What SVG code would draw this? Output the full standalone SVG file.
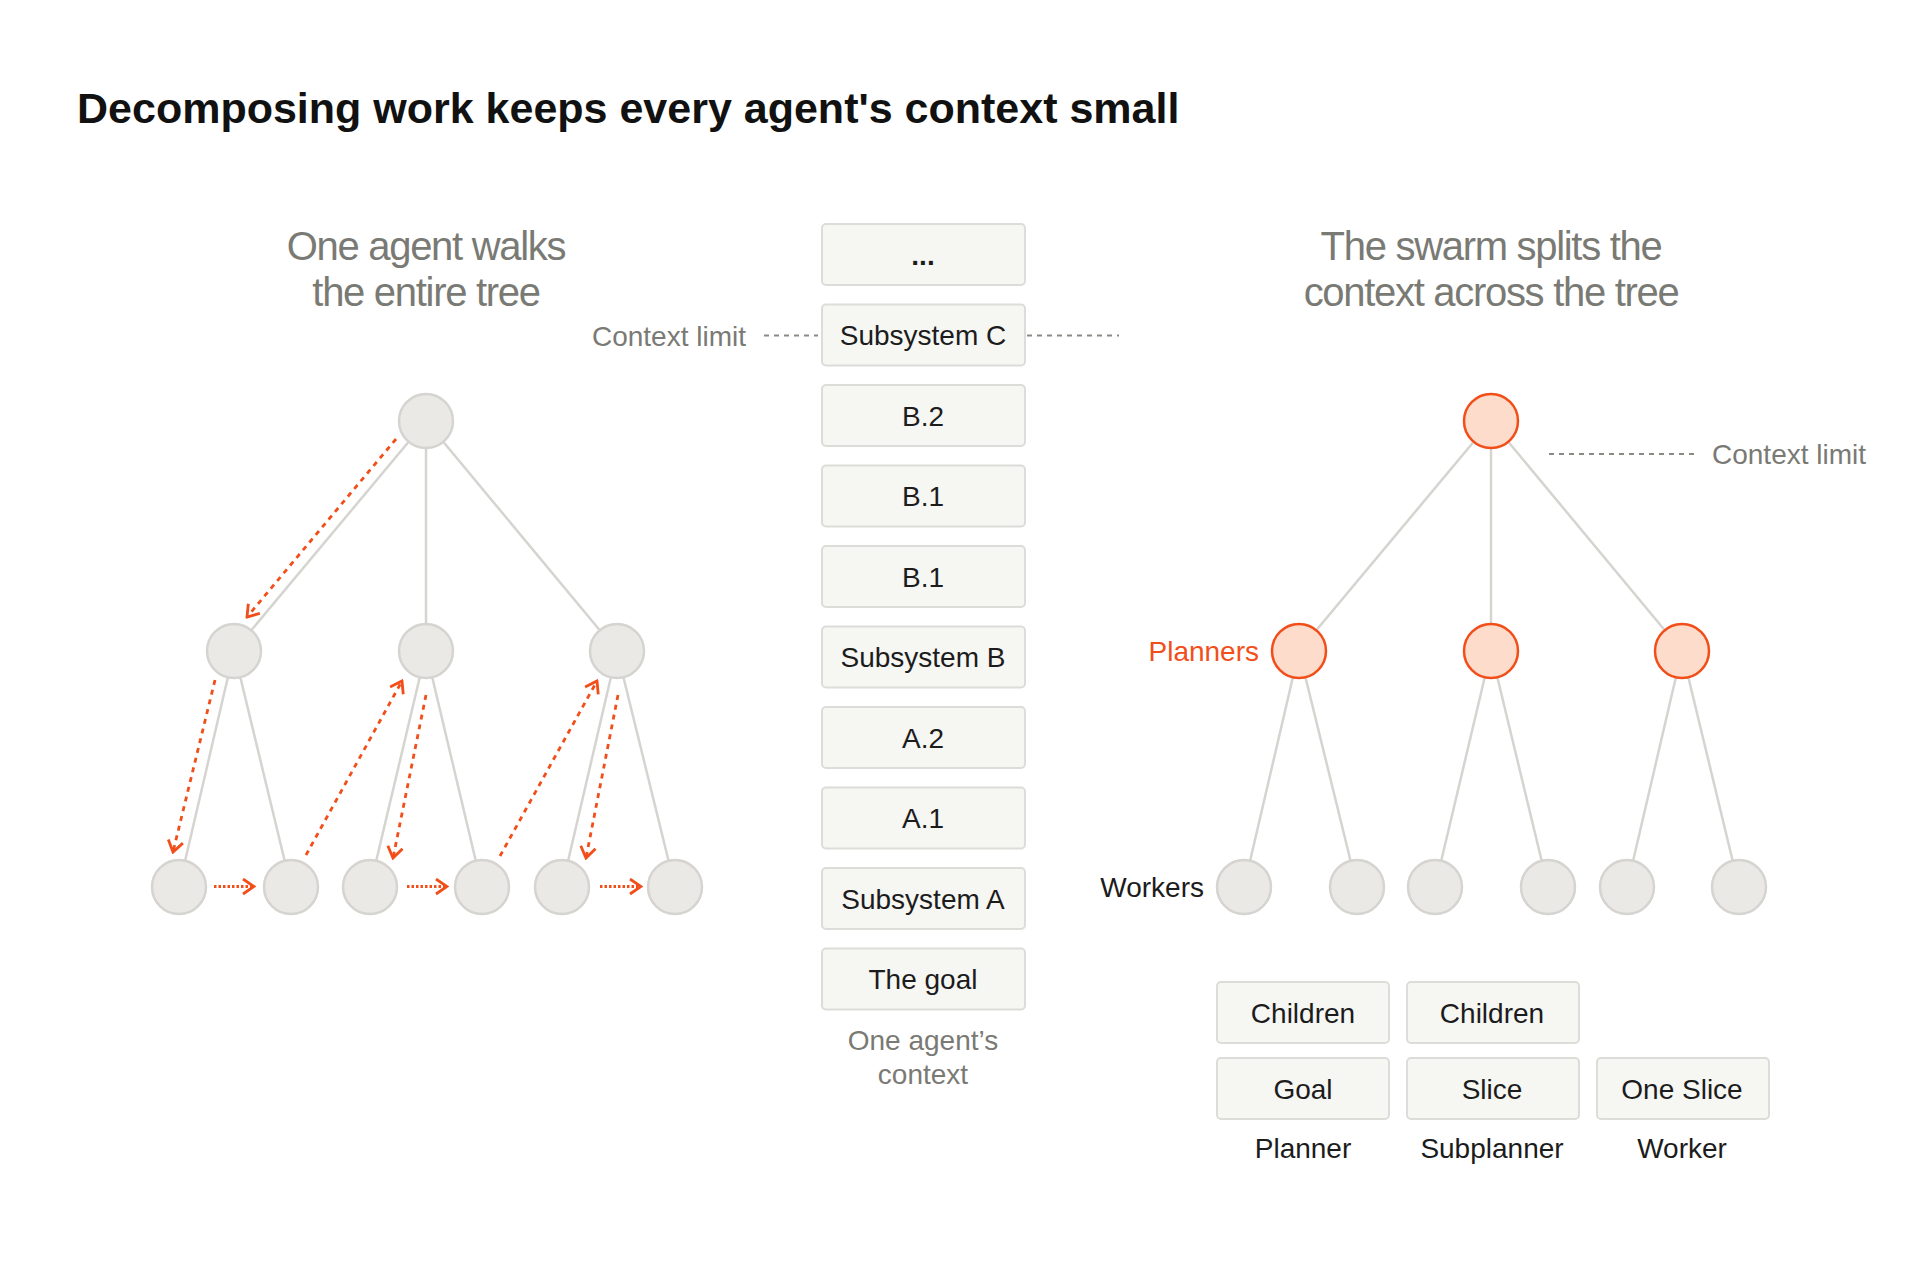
<svg xmlns="http://www.w3.org/2000/svg" width="1920" height="1266" viewBox="0 0 1920 1266">
<style>
.bg{fill:#ffffff}
.title{font-family:"Liberation Sans",Arial,sans-serif;font-weight:bold;font-size:43px;fill:#111111}
.head{font-family:"Liberation Sans",Arial,sans-serif;font-size:40px;letter-spacing:-1.3px;fill:#7a7a75;text-anchor:middle}
.lbl{font-family:"Liberation Sans",Arial,sans-serif;font-size:28px;fill:#1c1c1c}
.gray{fill:#7a7a75}
.orange{fill:#f24e1a}
.mid{text-anchor:middle}
.end{text-anchor:end}
.box{fill:#f6f6f3;stroke:#dcdcd8;stroke-width:2}
.n{fill:#eae9e5;stroke:#d5d4d0;stroke-width:2.5}
.p{fill:#fddccb;stroke:#f24e1a;stroke-width:2.5}
.edge{stroke:#d5d4d0;stroke-width:2.5;fill:none}
.limit{stroke:#8a8a85;stroke-width:2;stroke-dasharray:5 5;fill:none}
.walk{stroke:#f24e1a;stroke-width:2.8;stroke-dasharray:5 5;fill:none;marker-end:url(#chev)}
.step{stroke:#f24e1a;stroke-width:2.8;stroke-dasharray:2.5 2;fill:none;marker-end:url(#chev)}
</style>
<defs>
<marker id="chev" viewBox="0 0 16 18" refX="14" refY="9" markerWidth="16" markerHeight="18" markerUnits="userSpaceOnUse" orient="auto">
<path d="M3,1.5 L14,9 L3,16.5" fill="none" stroke="#f24e1a" stroke-width="2.8" stroke-dasharray="none"/>
</marker>
</defs>
<rect class="bg" x="0" y="0" width="1920" height="1266"/>
<text id="title" class="title" x="77" y="123">Decomposing work keeps every agent's context small</text>

<g id="heading-left">
<text class="head" x="426" y="260">One agent walks</text>
<text class="head" x="426" y="306">the entire tree</text>
</g>
<g id="heading-right">
<text class="head" x="1491" y="260">The swarm splits the</text>
<text class="head" x="1491" y="306">context across the tree</text>
</g>

<g id="connectors">
<line class="edge" x1="426" y1="421" x2="234" y2="651"/>
<line class="edge" x1="426" y1="421" x2="426" y2="651"/>
<line class="edge" x1="426" y1="421" x2="617" y2="651"/>
<line class="edge" x1="234" y1="651" x2="179" y2="887"/>
<line class="edge" x1="234" y1="651" x2="291" y2="887"/>
<line class="edge" x1="426" y1="651" x2="370" y2="887"/>
<line class="edge" x1="426" y1="651" x2="482" y2="887"/>
<line class="edge" x1="617" y1="651" x2="562" y2="887"/>
<line class="edge" x1="617" y1="651" x2="675" y2="887"/>
<line class="edge" x1="1491" y1="421" x2="1299" y2="651"/>
<line class="edge" x1="1491" y1="421" x2="1491" y2="651"/>
<line class="edge" x1="1491" y1="421" x2="1682" y2="651"/>
<line class="edge" x1="1299" y1="651" x2="1244" y2="887"/>
<line class="edge" x1="1299" y1="651" x2="1357" y2="887"/>
<line class="edge" x1="1491" y1="651" x2="1435" y2="887"/>
<line class="edge" x1="1491" y1="651" x2="1548" y2="887"/>
<line class="edge" x1="1682" y1="651" x2="1627" y2="887"/>
<line class="edge" x1="1682" y1="651" x2="1739" y2="887"/>
<line class="limit" x1="764" y1="335.5" x2="818" y2="335.5"/>
<line class="limit" x1="1027" y1="335.5" x2="1119" y2="335.5"/>
<line class="limit" x1="1549" y1="454" x2="1697" y2="454"/>
<line class="walk" x1="396" y1="439" x2="247" y2="617"/>
<line class="walk" x1="215" y1="680" x2="173" y2="852"/>
<line class="step" x1="214" y1="886.5" x2="254" y2="886.5"/>
<line class="walk" x1="306" y1="855" x2="402" y2="681"/>
<line class="walk" x1="426" y1="695" x2="393" y2="858"/>
<line class="step" x1="407" y1="886.5" x2="447" y2="886.5"/>
<line class="walk" x1="500" y1="856" x2="597" y2="681"/>
<line class="walk" x1="618" y1="695" x2="586" y2="858"/>
<line class="step" x1="600" y1="886.5" x2="641" y2="886.5"/>
</g>

<g id="left-tree">
<circle id="l-root" class="n" cx="426" cy="421" r="27"/>
<circle id="l-a" class="n" cx="234" cy="651" r="27"/>
<circle id="l-b" class="n" cx="426" cy="651" r="27"/>
<circle id="l-c" class="n" cx="617" cy="651" r="27"/>
<circle id="l-a1" class="n" cx="179" cy="887" r="27"/>
<circle id="l-a2" class="n" cx="291" cy="887" r="27"/>
<circle id="l-b1" class="n" cx="370" cy="887" r="27"/>
<circle id="l-b2" class="n" cx="482" cy="887" r="27"/>
<circle id="l-c1" class="n" cx="562" cy="887" r="27"/>
<circle id="l-c2" class="n" cx="675" cy="887" r="27"/>
</g>

<g id="right-tree">
<circle id="r-root" class="p" cx="1491" cy="421" r="27"/>
<circle id="r-p1" class="p" cx="1299" cy="651" r="27"/>
<circle id="r-p2" class="p" cx="1491" cy="651" r="27"/>
<circle id="r-p3" class="p" cx="1682" cy="651" r="27"/>
<circle id="r-w1" class="n" cx="1244" cy="887" r="27"/>
<circle id="r-w2" class="n" cx="1357" cy="887" r="27"/>
<circle id="r-w3" class="n" cx="1435" cy="887" r="27"/>
<circle id="r-w4" class="n" cx="1548" cy="887" r="27"/>
<circle id="r-w5" class="n" cx="1627" cy="887" r="27"/>
<circle id="r-w6" class="n" cx="1739" cy="887" r="27"/>
</g>

<g id="labels">
<text class="lbl gray end" x="746" y="345.5">Context limit</text>
<text class="lbl gray" x="1712" y="464">Context limit</text>
<text class="lbl orange end" x="1259" y="661">Planners</text>
<text class="lbl end" x="1204" y="897">Workers</text>
<text class="lbl gray mid" x="923" y="1050">One agent’s</text>
<text class="lbl gray mid" x="923" y="1084">context</text>
<text class="lbl mid" x="1303" y="1158">Planner</text>
<text class="lbl mid" x="1492" y="1158">Subplanner</text>
<text class="lbl mid" x="1682" y="1158">Worker</text>
</g>

<g id="context-stack">
<g id="s-more"><rect class="box" x="822" y="224" width="203" height="61" rx="4"/><text class="lbl mid" x="923" y="264.5" font-weight="bold">...</text></g>
<g id="s-subc"><rect class="box" x="822" y="304.5" width="203" height="61" rx="4"/><text class="lbl mid" x="923" y="345">Subsystem C</text></g>
<g id="s-b2"><rect class="box" x="822" y="385" width="203" height="61" rx="4"/><text class="lbl mid" x="923" y="425.5">B.2</text></g>
<g id="s-b1a"><rect class="box" x="822" y="465.5" width="203" height="61" rx="4"/><text class="lbl mid" x="923" y="506">B.1</text></g>
<g id="s-b1b"><rect class="box" x="822" y="546" width="203" height="61" rx="4"/><text class="lbl mid" x="923" y="586.5">B.1</text></g>
<g id="s-subb"><rect class="box" x="822" y="626.5" width="203" height="61" rx="4"/><text class="lbl mid" x="923" y="667">Subsystem B</text></g>
<g id="s-a2"><rect class="box" x="822" y="707" width="203" height="61" rx="4"/><text class="lbl mid" x="923" y="747.5">A.2</text></g>
<g id="s-a1"><rect class="box" x="822" y="787.5" width="203" height="61" rx="4"/><text class="lbl mid" x="923" y="828">A.1</text></g>
<g id="s-suba"><rect class="box" x="822" y="868" width="203" height="61" rx="4"/><text class="lbl mid" x="923" y="908.5">Subsystem A</text></g>
<g id="s-goal"><rect class="box" x="822" y="948.5" width="203" height="61" rx="4"/><text class="lbl mid" x="923" y="989">The goal</text></g>
</g>

<g id="role-contexts">
<g id="planner-children"><rect class="box" x="1217" y="982" width="172" height="61" rx="4"/><text class="lbl mid" x="1303" y="1022.5">Children</text></g>
<g id="sub-children"><rect class="box" x="1407" y="982" width="172" height="61" rx="4"/><text class="lbl mid" x="1492" y="1022.5">Children</text></g>
<g id="planner-goal"><rect class="box" x="1217" y="1058" width="172" height="61" rx="4"/><text class="lbl mid" x="1303" y="1098.5">Goal</text></g>
<g id="sub-slice"><rect class="box" x="1407" y="1058" width="172" height="61" rx="4"/><text class="lbl mid" x="1492" y="1098.5">Slice</text></g>
<g id="worker-slice"><rect class="box" x="1597" y="1058" width="172" height="61" rx="4"/><text class="lbl mid" x="1682" y="1098.5">One Slice</text></g>
</g>
</svg>
